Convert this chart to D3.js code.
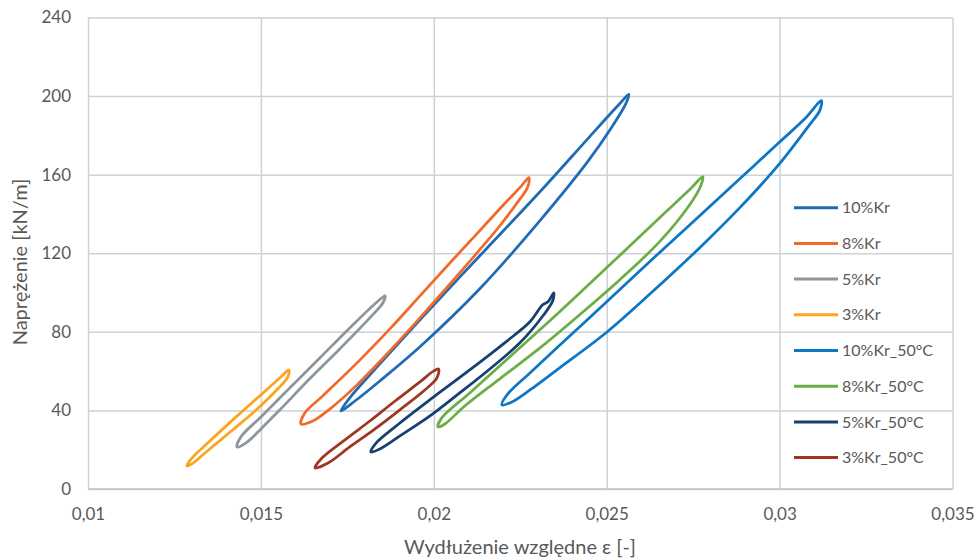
<!DOCTYPE html>
<html>
<head>
<meta charset="utf-8">
<script src="https://cdn.jsdelivr.net/npm/d3@7"></script>
<style>
  body { margin: 0; background: #fff; }
  svg text { font-family: Lato, "Open Sans", sans-serif; fill: #595959; }
</style>
</head>
<body>
<div id="chart"></div>
<script>
// hysteresis loops: [strain, stress kN/m], traced round each loop
var kr10 = [
  [0.01731, 39.7], [0.01757, 46.4], [0.01844, 63.7], [0.01960, 86.1], [0.02133, 118.7],
  [0.02307, 151.3], [0.02451, 179.4], [0.02538, 196.2], [0.02564, 200.9],
  [0.02555, 196.0], [0.02514, 184.0], [0.02445, 166.6], [0.02307, 136.6], [0.02133, 101.9],
  [0.01960, 72.4], [0.01844, 55.0], [0.01772, 44.8]
];
var kr8 = [
  [0.01616, 33.1], [0.01627, 38.7], [0.01679, 47.4], [0.01778, 64.2], [0.01873, 81.5],
  [0.01960, 98.3], [0.02055, 116.7], [0.02133, 131.5], [0.02205, 145.3], [0.02249, 153.4],
  [0.02275, 158.5],
  [0.02272, 153.9], [0.02237, 144.7], [0.02191, 134.0], [0.02133, 121.8], [0.02055, 106.0],
  [0.01960, 87.1], [0.01873, 70.3], [0.01778, 53.0], [0.01700, 40.8], [0.01650, 34.6]
];
var kr5 = [
  [0.01431, 21.4], [0.01442, 26.5], [0.01503, 37.2], [0.01584, 51.5], [0.01671, 66.8],
  [0.01757, 82.0], [0.01830, 94.3], [0.01859, 98.3],
  [0.01853, 94.8], [0.01815, 87.1], [0.01728, 71.3], [0.01641, 56.1], [0.01555, 40.3],
  [0.01503, 31.1], [0.01460, 23.9]
];
var kr3 = [
  [0.01286, 11.7], [0.01301, 15.8], [0.01353, 24.5], [0.01425, 36.2], [0.01503, 48.4],
  [0.01555, 56.6], [0.01581, 60.6],
  [0.01578, 57.1], [0.01549, 51.0], [0.01483, 39.7], [0.01411, 29.0], [0.01338, 18.3],
  [0.01304, 13.2]
];
var kr10_50 = [
  [0.02197, 42.8], [0.02214, 48.4], [0.02278, 59.1], [0.02393, 77.9], [0.02500, 95.3],
  [0.02624, 115.7], [0.02769, 139.1], [0.02885, 157.9], [0.03000, 176.6], [0.03072, 188.3],
  [0.03121, 197.7],
  [0.03116, 192.6], [0.03087, 185.5], [0.03000, 165.6], [0.02885, 143.2], [0.02769, 122.8],
  [0.02624, 99.1], [0.02500, 79.8], [0.02364, 61.7], [0.02278, 50.4], [0.02226, 44.3]
];
var kr8_50 = [
  [0.02012, 31.6], [0.02023, 36.2], [0.02104, 48.9], [0.02220, 67.3], [0.02364, 90.2],
  [0.02509, 114.1], [0.02653, 138.1], [0.02740, 152.4], [0.02778, 159.0],
  [0.02772, 154.4], [0.02740, 144.7], [0.02653, 125.9], [0.02538, 106.5], [0.02422, 88.7],
  [0.02307, 71.8], [0.02191, 56.1], [0.02090, 42.3], [0.02032, 33.1]
];
var kr5_50 = [
  [0.01818, 18.9], [0.01833, 23.4], [0.01902, 33.6], [0.02000, 46.9], [0.02104, 60.6],
  [0.02205, 74.4], [0.02278, 85.1], [0.02315, 93.8], [0.02330, 95.3], [0.02347, 99.9],
  [0.02344, 95.8], [0.02318, 88.7], [0.02249, 74.4], [0.02162, 61.1], [0.02075, 48.9],
  [0.01989, 37.2], [0.01902, 27.0], [0.01844, 20.4]
];
var kr3_50 = [
  [0.01656, 10.7], [0.01674, 15.3], [0.01743, 25.0], [0.01815, 34.6], [0.01888, 44.8],
  [0.01960, 54.5], [0.02000, 60.1], [0.02014, 61.1],
  [0.02009, 56.6], [0.01974, 50.4], [0.01902, 40.3], [0.01830, 30.6], [0.01757, 21.4],
  [0.01694, 13.2]
];

var seriesNames = ["10%Kr", "8%Kr", "5%Kr", "3%Kr", "10%Kr_50°C", "8%Kr_50°C", "5%Kr_50°C", "3%Kr_50°C"];
var seriesData = [kr10, kr8, kr5, kr3, kr10_50, kr8_50, kr5_50, kr3_50];
var seriesColors = ["#1F6BB5", "#F26A2A", "#8E959B", "#FBA51E", "#0C77C4", "#6BAE47", "#17406F", "#9E3620"];

var xTicks = [0.01, 0.015, 0.02, 0.025, 0.03, 0.035];
var yTicks = [0, 40, 80, 120, 160, 200, 240];

// layout
const width = 977, height = 559;
const plotLeft = 88, plotRight = 952.5, plotTop = 17.5, plotBottom = 489;
var gridColor = "#CDD2D6";

const svg = d3.select("#chart").append("svg")
    .attr("width", width)
    .attr("height", height);

const x = d3.scaleLinear().domain([0.01, 0.035]).range([plotLeft, plotRight]);
const y = d3.scaleLinear().domain([0, 240]).range([plotBottom, plotTop]);

const fmt = d => String(+d.toFixed(3)).replace(".", ",");

// vertical gridlines + x labels
const gx = svg.append("g")
    .attr("transform", `translate(0,${plotBottom})`)
    .call(d3.axisBottom(x).tickValues(xTicks).tickFormat(fmt)
      .tickSize(-(plotBottom - plotTop)).tickPadding(19));
gx.select(".domain").remove();
gx.selectAll("line").attr("stroke", gridColor).attr("stroke-width", 1.5);
gx.selectAll("text").style("font-size", "17px").attr("fill", "#595959");

// horizontal gridlines + y labels
const gy = svg.append("g")
    .attr("transform", `translate(${plotLeft},0)`)
    .call(d3.axisLeft(y).tickValues(yTicks)
      .tickSize(-(plotRight - plotLeft)).tickPadding(17));
gy.select(".domain").remove();
gy.selectAll("line").attr("stroke", gridColor).attr("stroke-width", 1.5);
gy.selectAll("text").style("font-size", "17px").attr("fill", "#595959");

// bottom axis line a bit darker
svg.append("line").attr("x1", plotLeft).attr("x2", plotRight).attr("y1", plotBottom).attr("y2", plotBottom)
    .attr("stroke", "#BFC5CA").attr("stroke-width", 1.5);

// loops
const line = d3.line()
    .x(d => x(d[0]))
    .y(d => y(d[1]))
    .curve(d3.curveCatmullRomClosed.alpha(0.5));

svg.append("g")
  .selectAll("path")
  .data(seriesData)
  .join("path")
    .attr("d", line)
    .attr("fill", "none")
    .attr("stroke", (d, i) => seriesColors[i])
    .attr("stroke-width", 2.75)
    .attr("stroke-linejoin", "round");

// legend (no box, sits on the grid)
const legend = svg.append("g")
  .selectAll("g")
  .data(seriesNames)
  .join("g")
    .attr("transform", (d, i) => `translate(794,${207.7 + i * 35.7})`);

legend.append("line")
    .attr("x1", 0).attr("x2", 44)
    .attr("stroke", (d, i) => seriesColors[i])
    .attr("stroke-width", 3);

legend.append("text")
    .attr("x", 48)
    .attr("dy", "0.35em")
    .style("font-size", "16px")
    .text(d => d);

// axis titles
svg.append("text")
    .attr("x", 520)
    .attr("y", 554)
    .attr("text-anchor", "middle")
    .style("font-size", "20px")
    .text("Wydłużenie względne ε [-]");

svg.append("text")
    .attr("transform", "translate(27,262) rotate(-90)")
    .attr("text-anchor", "middle")
    .style("font-size", "20px")
    .text("Naprężenie [kN/m]");
</script>
</body>
</html>
